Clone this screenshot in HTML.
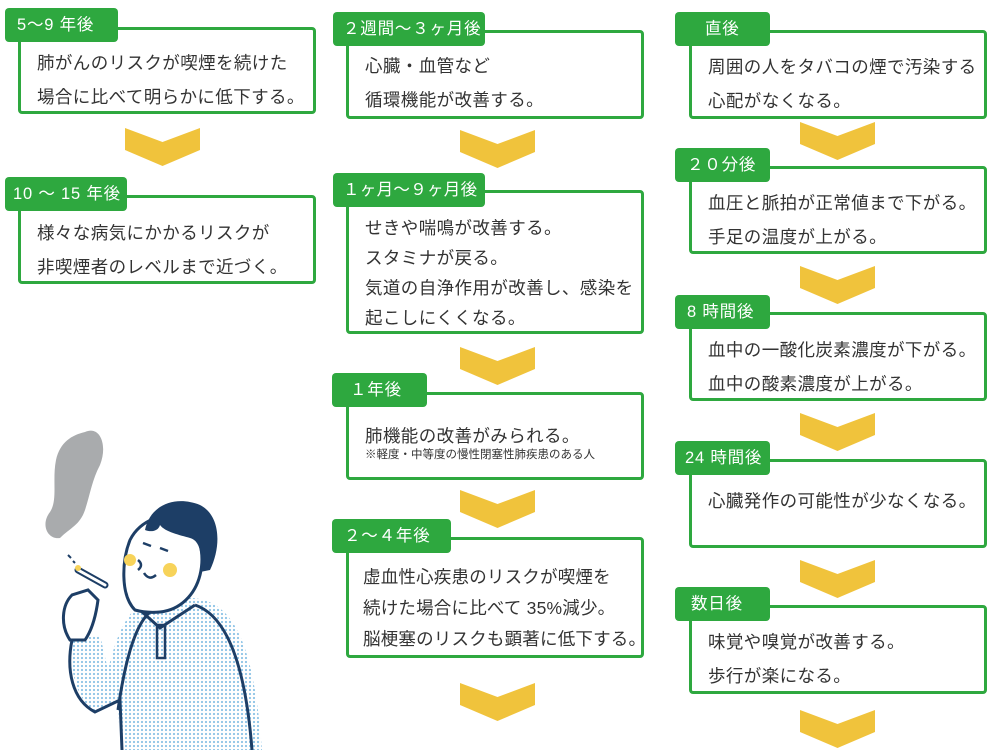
<!DOCTYPE html>
<html><head><meta charset="utf-8"><style>
body{margin:0;width:999px;height:750px;background:#fff;position:relative;overflow:hidden;font-family:"Liberation Sans","Noto Sans CJK JP",sans-serif;color:#333}
.box{position:absolute;border:3px solid #2ea83f;border-radius:4px;box-sizing:border-box;background:#fff;font-size:17.5px;line-height:34px;padding-left:16px;letter-spacing:0.4px;white-space:nowrap}
.lab{position:absolute;background:#2ea83f;color:#fff;border-radius:4px;font-size:16.5px;height:34px;line-height:34px;box-sizing:border-box;padding-left:12px;letter-spacing:0.8px;z-index:2;white-space:nowrap}
.chev{position:absolute;width:75px;height:38px}
small{font-size:11.5px;line-height:16px;display:block;letter-spacing:0}
</style></head><body>
<!-- left -->
<div class="lab" style="left:5px;top:8px;width:113px">5～9 年後</div>
<div class="box" style="left:18px;top:27px;width:298px;height:87px;padding-top:16px">肺がんのリスクが喫煙を続けた<br>場合に比べて明らかに低下する。</div>
<svg class="chev" style="left:125px;top:128px" viewBox="0 0 75 38"><polygon points="0,0 37.5,14 75,0 75,22 37.5,38 0,22" fill="#f0c33c"/></svg>
<div class="lab" style="left:5px;top:177px;width:122px;padding-left:8px">10 ～ 15 年後</div>
<div class="box" style="left:18px;top:195px;width:298px;height:89px;padding-top:18px">様々な病気にかかるリスクが<br>非喫煙者のレベルまで近づく。</div>

<!-- middle -->
<div class="lab" style="left:333px;top:12px;width:152px;padding-left:10px">２週間～３ヶ月後</div>
<div class="box" style="left:346px;top:30px;width:298px;height:89px;padding-top:16px">心臓・血管など<br>循環機能が改善する。</div>
<svg class="chev" style="left:460px;top:130px" viewBox="0 0 75 38"><polygon points="0,0 37.5,14 75,0 75,22 37.5,38 0,22" fill="#f0c33c"/></svg>
<div class="lab" style="left:333px;top:173px;width:152px;padding-left:10px;letter-spacing:0.3px">１ヶ月～９ヶ月後</div>
<div class="box" style="left:346px;top:190px;width:298px;height:144px;padding-top:20px;line-height:30px">せきや喘鳴が改善する。<br>スタミナが戻る。<br>気道の自浄作用が改善し、感染を<br>起こしにくくなる。</div>
<svg class="chev" style="left:460px;top:347px" viewBox="0 0 75 38"><polygon points="0,0 37.5,14 75,0 75,22 37.5,38 0,22" fill="#f0c33c"/></svg>
<div class="lab" style="left:332px;top:373px;width:95px;padding-left:18px">１年後</div>
<div class="box" style="left:346px;top:392px;width:298px;height:88px;padding-top:30px;line-height:22px">肺機能の改善がみられる。<small>※軽度・中等度の慢性閉塞性肺疾患のある人</small></div>
<svg class="chev" style="left:460px;top:490px" viewBox="0 0 75 38"><polygon points="0,0 37.5,14 75,0 75,22 37.5,38 0,22" fill="#f0c33c"/></svg>
<div class="lab" style="left:332px;top:519px;width:119px">２～４年後</div>
<div class="box" style="left:346px;top:537px;width:298px;height:121px;padding-top:22px;padding-left:14px;line-height:31px;letter-spacing:0.2px">虚血性心疾患のリスクが喫煙を<br>続けた場合に比べて 35%減少。<br>脳梗塞のリスクも顕著に低下する。</div>
<svg class="chev" style="left:460px;top:683px" viewBox="0 0 75 38"><polygon points="0,0 37.5,14 75,0 75,22 37.5,38 0,22" fill="#f0c33c"/></svg>

<!-- right -->
<div class="lab" style="left:675px;top:12px;width:95px;padding-left:30px">直後</div>
<div class="box" style="left:689px;top:30px;width:298px;height:89px;padding-top:17px">周囲の人をタバコの煙で汚染する<br>心配がなくなる。</div>
<svg class="chev" style="left:800px;top:122px" viewBox="0 0 75 38"><polygon points="0,0 37.5,14 75,0 75,22 37.5,38 0,22" fill="#f0c33c"/></svg>
<div class="lab" style="left:675px;top:148px;width:95px">２０分後</div>
<div class="box" style="left:689px;top:166px;width:298px;height:88px;padding-top:17px">血圧と脈拍が正常値まで下がる。<br>手足の温度が上がる。</div>
<svg class="chev" style="left:800px;top:266px" viewBox="0 0 75 38"><polygon points="0,0 37.5,14 75,0 75,22 37.5,38 0,22" fill="#f0c33c"/></svg>
<div class="lab" style="left:675px;top:295px;width:95px">8 時間後</div>
<div class="box" style="left:689px;top:312px;width:298px;height:89px;padding-top:18px">血中の一酸化炭素濃度が下がる。<br>血中の酸素濃度が上がる。</div>
<svg class="chev" style="left:800px;top:413px" viewBox="0 0 75 38"><polygon points="0,0 37.5,14 75,0 75,22 37.5,38 0,22" fill="#f0c33c"/></svg>
<div class="lab" style="left:675px;top:441px;width:95px;padding-left:10px">24 時間後</div>
<div class="box" style="left:689px;top:459px;width:298px;height:89px;padding-top:22px">心臓発作の可能性が少なくなる。</div>
<svg class="chev" style="left:800px;top:560px" viewBox="0 0 75 38"><polygon points="0,0 37.5,14 75,0 75,22 37.5,38 0,22" fill="#f0c33c"/></svg>
<div class="lab" style="left:675px;top:587px;width:95px;padding-left:16px">数日後</div>
<div class="box" style="left:689px;top:605px;width:298px;height:89px;padding-top:17px">味覚や嗅覚が改善する。<br>歩行が楽になる。</div>
<svg class="chev" style="left:800px;top:710px" viewBox="0 0 75 38"><polygon points="0,0 37.5,14 75,0 75,22 37.5,38 0,22" fill="#f0c33c"/></svg>

<!-- illustration -->
<svg style="position:absolute;left:0;top:400px" width="340" height="350" viewBox="0 0 340 350">
<defs><pattern id="dots" width="4" height="4" patternUnits="userSpaceOnUse"><rect width="4" height="4" fill="#fff"/><circle cx="2" cy="2" r="1.1" fill="#8cc3e6"/></pattern></defs>
<path d="M85,32 C100,25 108,45 100,65 C92,80 90,95 85,110 C80,125 70,128 60,138 C48,140 40,125 50,112 C58,100 52,80 56,60 C60,42 72,35 85,32Z" fill="#a9abad"/>
<path d="M140,205 C170,195 200,195 215,205 C240,220 255,260 262,350 L120,350 L118,300 L95,312 C75,300 68,260 72,240 L100,235 L108,270 C115,240 125,215 140,205 Z" fill="url(#dots)"/>
<path d="M72,240 C66,270 72,300 95,312 L120,300 L122,350 M195,205 C225,215 245,260 252,350 M118,310 C125,260 135,225 150,212 M140,210 L160,228 L195,205" fill="none" stroke="#1d3e66" stroke-width="3"/>
<rect x="157" y="225" width="8" height="33" fill="none" stroke="#1d3e66" stroke-width="2.5"/>
<path d="M135,210 C120,195 122,160 130,140 C140,120 165,110 185,120 C200,130 205,155 200,175 C195,195 180,210 160,212 C150,213 142,212 135,210Z" fill="#fff" stroke="#1d3e66" stroke-width="3"/>
<path d="M145,130 C150,105 175,95 200,105 C220,115 222,145 210,170 L200,172 C203,150 198,140 190,138 C180,135 165,132 160,125 C158,132 150,132 145,130Z" fill="#1d3e66"/>
<circle cx="130" cy="160" r="6" fill="#f7d35a"/><circle cx="170" cy="170" r="7" fill="#f7d35a"/>
<path d="M143,143 l8,3 M160,148 l8,3 M144,173 q5,8 12,2 M138,160 q6,5 0,10" fill="none" stroke="#1d3e66" stroke-width="2.5"/>
<path d="M70,240 C60,225 62,205 72,195 L88,190 L98,200 C96,215 92,230 85,240 Z" fill="#fff" stroke="#1d3e66" stroke-width="3"/>
<path d="M78,170 L105,185" stroke="#1d3e66" stroke-width="7" stroke-linecap="round"/>
<path d="M78,170 L105,185" stroke="#fff" stroke-width="3" stroke-linecap="round"/>
<circle cx="78" cy="168" r="3" fill="#f7d35a"/>
<path d="M68,155 l3,3 M73,161 l2,2" stroke="#1d3e66" stroke-width="2"/>
</svg>
</body></html>
